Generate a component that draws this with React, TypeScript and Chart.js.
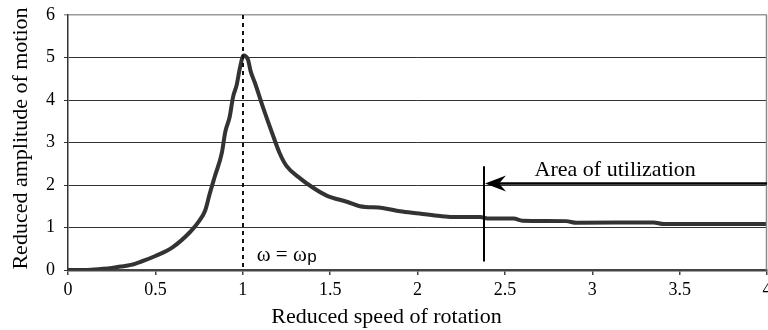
import React, { useEffect, useRef } from 'react';
import { Chart, registerables } from 'chart.js';

Chart.register(...registerables);

// Reduced speed of rotation (x) and reduced amplitude of motion (y)
const speed = [0, 0.1, 0.2, 0.25, 0.3, 0.36, 0.42, 0.5, 0.6, 0.7, 0.75, 0.785, 0.81, 0.84, 0.88, 0.9, 0.925, 0.945, 0.965, 0.985, 1.005, 1.03, 1.045, 1.07, 1.12, 1.17, 1.21, 1.25, 1.33, 1.39, 1.48, 1.6, 1.67, 1.8, 1.9, 2.01, 2.13, 2.2, 2.36, 2.4, 2.55, 2.6, 2.85, 2.91, 3.35, 3.41, 4.0];
const amplitude = [0, 0, 0.03, 0.05, 0.08, 0.12, 0.2, 0.33, 0.54, 0.9, 1.15, 1.4, 1.78, 2.2, 2.75, 3.25, 3.6, 4.08, 4.35, 4.78, 5.05, 4.95, 4.68, 4.4, 3.78, 3.2, 2.76, 2.45, 2.15, 1.97, 1.75, 1.6, 1.5, 1.46, 1.38, 1.33, 1.27, 1.25, 1.25, 1.21, 1.21, 1.16, 1.15, 1.11, 1.12, 1.08, 1.08];

const xTitle = 'Reduced speed of rotation';
const yTitle = 'Reduced amplitude of motion';
const areaLabel = 'Area of utilization';
const omegaLabel = 'ω = ω';
const omegaSub = 'p';

const resonanceX = 1;
const utilizationX = 2.38;
const utilizationLineY = [0.2, 2.44];
const arrowY = 2;
const areaLabelX = 2.67;
const omegaLabelX = 1.08;
const omegaLabelY = 0.21;

const SERIF = '"Liberation Serif", "Times New Roman", serif';
const SANS = '"Liberation Sans", Arial, sans-serif';

export default function App() {
  const ref = useRef<HTMLCanvasElement>(null);

  useEffect(() => {
    if (!ref.current) return;

    const annotations = {
      id: 'annotations',
      afterDatasetsDraw(chart: any) {
        const { ctx, chartArea, scales } = chart;
        const xs = scales.x;
        const ys = scales.y;
        ctx.save();

        // right border of the plot area
        ctx.strokeStyle = '#8a8a8a';
        ctx.lineWidth = 1.5;
        ctx.beginPath();
        ctx.moveTo(chartArea.right - 0.5, chartArea.top);
        ctx.lineTo(chartArea.right - 0.5, chartArea.bottom);
        ctx.stroke();

        // dashed resonance line
        const rx = Math.round(xs.getPixelForValue(resonanceX));
        ctx.strokeStyle = '#111';
        ctx.lineWidth = 2;
        ctx.setLineDash([4, 4]);
        ctx.beginPath();
        ctx.moveTo(rx, ys.getPixelForValue(6));
        ctx.lineTo(rx, ys.getPixelForValue(0));
        ctx.stroke();
        ctx.setLineDash([]);

        // utilization boundary
        const ux = Math.round(xs.getPixelForValue(utilizationX));
        ctx.strokeStyle = '#000';
        ctx.lineWidth = 2;
        ctx.beginPath();
        ctx.moveTo(ux, ys.getPixelForValue(utilizationLineY[0]));
        ctx.lineTo(ux, ys.getPixelForValue(utilizationLineY[1]));
        ctx.stroke();

        // arrow
        const ay = Math.round(ys.getPixelForValue(arrowY)) - 1.5;
        const tip = ux + 1;
        ctx.lineWidth = 2.5;
        ctx.beginPath();
        ctx.moveTo(tip + 10, ay);
        ctx.lineTo(chartArea.right, ay);
        ctx.stroke();
        ctx.fillStyle = '#000';
        ctx.beginPath();
        ctx.moveTo(tip, ay);
        ctx.lineTo(tip + 21, ay - 8);
        ctx.lineTo(tip + 14, ay);
        ctx.lineTo(tip + 21, ay + 8);
        ctx.closePath();
        ctx.fill();

        // texts
        ctx.fillStyle = '#000';
        ctx.textBaseline = 'alphabetic';
        ctx.textAlign = 'left';
        ctx.font = `22px ${SERIF}`;
        ctx.fillText(areaLabel, xs.getPixelForValue(areaLabelX), ys.getPixelForValue(arrowY) - 9);

        const ox = xs.getPixelForValue(omegaLabelX);
        const oy = ys.getPixelForValue(omegaLabelY);
        ctx.font = `21px ${SERIF}`;
        ctx.fillText(omegaLabel, ox, oy);
        const w = ctx.measureText(omegaLabel).width;
        ctx.font = `17px ${SANS}`;
        ctx.fillText(omegaSub, ox + w + 0.5, oy + 1);

        ctx.font = `22px ${SERIF}`;
        ctx.textAlign = 'center';
        ctx.fillText(xTitle, chart.width / 2 + 2.5, 323);

        ctx.translate(27, 138.5);
        ctx.rotate(-Math.PI / 2);
        ctx.fillText(yTitle, 0, 0);
        ctx.restore();
      },
    };

    const chart = new Chart(ref.current, {
      type: 'line',
      data: {
        datasets: [
          {
            data: speed.map((x, i) => ({ x, y: amplitude[i] })),
            borderColor: '#333',
            borderWidth: 4,
            pointRadius: 0,
            cubicInterpolationMode: 'monotone',
            fill: false,
          },
        ],
      },
      options: {
        responsive: false,
        animation: false,
        events: [],
        layout: { padding: { top: 15, right: 1, left: 0, bottom: 0 } },
        plugins: { legend: { display: false }, tooltip: { enabled: false } },
        scales: {
          x: {
            type: 'linear',
            min: 0,
            max: 4,
            ticks: {
              stepSize: 0.5,
              font: { family: SERIF, size: 18 },
              color: '#000',
              padding: 4,
              maxRotation: 0,
              callback: (v: any) => `${v}`,
            },
            grid: {
              drawOnChartArea: false,
              drawTicks: true,
              tickLength: 5,
              color: '#444',
              lineWidth: 1.5,
            },
            border: { display: true, color: '#444', width: 2.5 },
            afterFit(scale: any) {
              scale.height = 60;
              scale.paddingLeft = 0;
              scale.paddingRight = 0;
            },
          },
          y: {
            min: 0,
            max: 6,
            ticks: {
              stepSize: 1,
              font: { family: SERIF, size: 18 },
              color: '#000',
              padding: 9,
              callback: (v: any) => `${v}`,
            },
            grid: {
              color: (c: any) => (c.tick && c.tick.value === 6 ? '#9a9a9a' : '#333'),
              lineWidth: (c: any) => (c.tick && c.tick.value === 6 ? 1.5 : 1),
              tickLength: 4,
            },
            border: { display: true, color: '#333', width: 1.5 },
            afterFit(scale: any) {
              scale.width = 68;
              scale.paddingTop = 0;
              scale.paddingBottom = 0;
            },
          },
        },
      },
      plugins: [annotations],
    });

    return () => chart.destroy();
  }, []);

  return (
    <div style={{ position: 'fixed', left: 0, top: 0, width: 768, height: 330, background: '#fff' }}>
      <canvas ref={ref} width={768} height={330} style={{ width: 768, height: 330, display: 'block' }} />
    </div>
  );
}
